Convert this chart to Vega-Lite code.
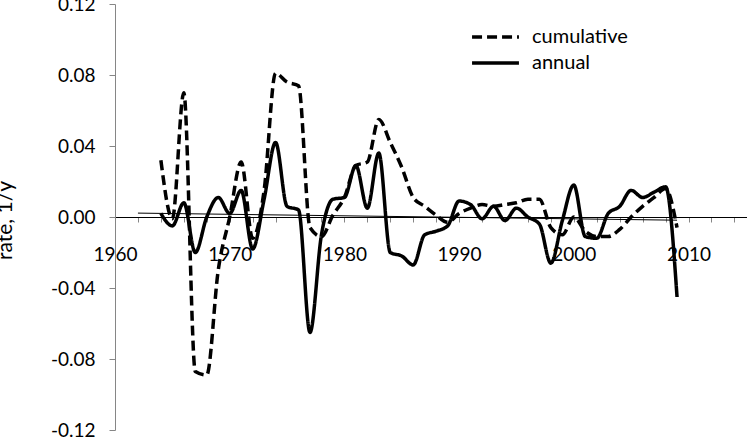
{
  "$schema": "https://vega.github.io/schema/vega-lite/v6.json",
  "width": 632,
  "height": 426,
  "autosize": {"type": "none"},
  "padding": {"left": 115, "top": 4, "right": 0, "bottom": 8},
  "background": "white",
  "config": {"view": {"stroke": null}, "font": "Lato"},
  "datasets": {
    "trend": [
      {"year": 1962, "value": 0.0022},
      {"year": 2009, "value": -0.0018}
    ],
    "rates": [
      {"year": 1964, "series": "cumulative", "value": 0.032},
      {"year": 1965, "series": "cumulative", "value": -0.001},
      {"year": 1966, "series": "cumulative", "value": 0.070},
      {"year": 1967, "series": "cumulative", "value": -0.087},
      {"year": 1968, "series": "cumulative", "value": -0.089},
      {"year": 1969, "series": "cumulative", "value": -0.030},
      {"year": 1970, "series": "cumulative", "value": 0.000},
      {"year": 1971, "series": "cumulative", "value": 0.031},
      {"year": 1972, "series": "cumulative", "value": -0.012},
      {"year": 1973, "series": "cumulative", "value": 0.015},
      {"year": 1974, "series": "cumulative", "value": 0.081},
      {"year": 1975, "series": "cumulative", "value": 0.076},
      {"year": 1976, "series": "cumulative", "value": 0.074},
      {"year": 1977, "series": "cumulative", "value": -0.006},
      {"year": 1978, "series": "cumulative", "value": -0.011},
      {"year": 1979, "series": "cumulative", "value": 0.001},
      {"year": 1980, "series": "cumulative", "value": 0.011},
      {"year": 1981, "series": "cumulative", "value": 0.029},
      {"year": 1982, "series": "cumulative", "value": 0.031},
      {"year": 1983, "series": "cumulative", "value": 0.055},
      {"year": 1984, "series": "cumulative", "value": 0.042},
      {"year": 1985, "series": "cumulative", "value": 0.028},
      {"year": 1986, "series": "cumulative", "value": 0.011},
      {"year": 1987, "series": "cumulative", "value": 0.006},
      {"year": 1988, "series": "cumulative", "value": 0.001},
      {"year": 1989, "series": "cumulative", "value": -0.003},
      {"year": 1990, "series": "cumulative", "value": 0.002},
      {"year": 1991, "series": "cumulative", "value": 0.005},
      {"year": 1992, "series": "cumulative", "value": 0.007},
      {"year": 1993, "series": "cumulative", "value": 0.006},
      {"year": 1994, "series": "cumulative", "value": 0.007},
      {"year": 1995, "series": "cumulative", "value": 0.008},
      {"year": 1996, "series": "cumulative", "value": 0.010},
      {"year": 1997, "series": "cumulative", "value": 0.010},
      {"year": 1998, "series": "cumulative", "value": -0.006},
      {"year": 1999, "series": "cumulative", "value": -0.010},
      {"year": 2000, "series": "cumulative", "value": 0.000},
      {"year": 2001, "series": "cumulative", "value": -0.008},
      {"year": 2002, "series": "cumulative", "value": -0.011},
      {"year": 2003, "series": "cumulative", "value": -0.011},
      {"year": 2004, "series": "cumulative", "value": -0.007},
      {"year": 2005, "series": "cumulative", "value": 0.000},
      {"year": 2006, "series": "cumulative", "value": 0.006},
      {"year": 2007, "series": "cumulative", "value": 0.011},
      {"year": 2008, "series": "cumulative", "value": 0.016},
      {"year": 2009, "series": "cumulative", "value": -0.006},
      {"year": 1964, "series": "annual", "value": 0.002},
      {"year": 1965, "series": "annual", "value": -0.005},
      {"year": 1966, "series": "annual", "value": 0.008},
      {"year": 1967, "series": "annual", "value": -0.020},
      {"year": 1968, "series": "annual", "value": 0.000},
      {"year": 1969, "series": "annual", "value": 0.011},
      {"year": 1970, "series": "annual", "value": 0.002},
      {"year": 1971, "series": "annual", "value": 0.015},
      {"year": 1972, "series": "annual", "value": -0.018},
      {"year": 1973, "series": "annual", "value": 0.010},
      {"year": 1974, "series": "annual", "value": 0.042},
      {"year": 1975, "series": "annual", "value": 0.006},
      {"year": 1976, "series": "annual", "value": 0.004},
      {"year": 1977, "series": "annual", "value": -0.065},
      {"year": 1978, "series": "annual", "value": -0.010},
      {"year": 1979, "series": "annual", "value": 0.010},
      {"year": 1980, "series": "annual", "value": 0.011},
      {"year": 1981, "series": "annual", "value": 0.029},
      {"year": 1982, "series": "annual", "value": 0.005},
      {"year": 1983, "series": "annual", "value": 0.036},
      {"year": 1984, "series": "annual", "value": -0.020},
      {"year": 1985, "series": "annual", "value": -0.022},
      {"year": 1986, "series": "annual", "value": -0.027},
      {"year": 1987, "series": "annual", "value": -0.010},
      {"year": 1988, "series": "annual", "value": -0.008},
      {"year": 1989, "series": "annual", "value": -0.005},
      {"year": 1990, "series": "annual", "value": 0.009},
      {"year": 1991, "series": "annual", "value": 0.007},
      {"year": 1992, "series": "annual", "value": -0.001},
      {"year": 1993, "series": "annual", "value": 0.006},
      {"year": 1994, "series": "annual", "value": -0.002},
      {"year": 1995, "series": "annual", "value": 0.005},
      {"year": 1996, "series": "annual", "value": 0.000},
      {"year": 1997, "series": "annual", "value": -0.004},
      {"year": 1998, "series": "annual", "value": -0.026},
      {"year": 1999, "series": "annual", "value": -0.002},
      {"year": 2000, "series": "annual", "value": 0.018},
      {"year": 2001, "series": "annual", "value": -0.011},
      {"year": 2002, "series": "annual", "value": -0.012},
      {"year": 2003, "series": "annual", "value": 0.002},
      {"year": 2004, "series": "annual", "value": 0.006},
      {"year": 2005, "series": "annual", "value": 0.015},
      {"year": 2006, "series": "annual", "value": 0.011},
      {"year": 2007, "series": "annual", "value": 0.014},
      {"year": 2008, "series": "annual", "value": 0.017},
      {"year": 2009, "series": "annual", "value": -0.045}
    ]
  },
  "encoding": {
    "x": {
      "field": "year",
      "type": "quantitative",
      "scale": {"domain": [1960, 2015.1], "nice": false, "zero": false},
      "axis": {
        "orient": "bottom",
        "offset": -213,
        "values": [1960, 1962, 1964, 1966, 1968, 1970, 1972, 1974, 1976, 1978, 1980, 1982, 1984, 1986, 1988, 1990, 1992, 1994, 1996, 1998, 2000, 2002, 2004, 2006, 2008, 2010, 2012, 2014],
        "labelExpr": "datum.value % 10 === 0 ? format(datum.value, 'd') : ''",
        "title": null,
        "grid": false,
        "domainColor": "black",
        "domainWidth": 1,
        "tickColor": "#868686",
        "tickSize": 5,
        "labelFont": "Lato",
        "labelFontSize": 19,
        "labelColor": "black",
        "labelBaseline": "alphabetic",
        "labelPadding": 38,
        "labelOverlap": false,
        "labelFlush": false,
        "zindex": 0
      }
    },
    "y": {
      "field": "value",
      "type": "quantitative",
      "scale": {"domain": [-0.12, 0.12], "nice": false, "zero": false},
      "axis": {
        "values": [-0.12, -0.08, -0.04, 0, 0.04, 0.08, 0.12],
        "labelExpr": "replace(format(datum.value, '.2f'), '\u2212', '-')",
        "grid": false,
        "domainColor": "#868686",
        "tickColor": "#868686",
        "tickSize": 6,
        "labelFont": "Lato",
        "labelFontSize": 19,
        "labelColor": "black",
        "labelPadding": 14,
        "labelFlush": false,
        "title": "rate, 1/y",
        "titleFont": "Lato",
        "titleFontSize": 21,
        "titleFontWeight": "normal",
        "titleColor": "black",
        "titleX": -104,
        "titleY": 216,
        "titleAngle": 270,
        "titleAlign": "center",
        "titleBaseline": "alphabetic",
        "zindex": 0
      }
    }
  },
  "layer": [
    {
      "data": {"name": "trend"},
      "mark": {"type": "line", "color": "black", "strokeWidth": 1}
    },
    {
      "data": {"name": "rates"},
      "mark": {"type": "line", "color": "black", "strokeWidth": 3.5, "interpolate": "monotone"},
      "encoding": {
        "strokeDash": {
          "field": "series",
          "type": "nominal",
          "scale": {"domain": ["cumulative", "annual"], "range": [[10, 5], [1, 0]]},
          "legend": {
            "orient": "none",
            "legendX": 355,
            "legendY": 22,
            "title": null,
            "padding": 0,
            "symbolType": "stroke",
            "symbolSize": 2200,
            "symbolStrokeWidth": 3.5,
            "symbolStrokeColor": "black",
            "labelFont": "Lato",
            "labelFontSize": 20,
            "labelColor": "black",
            "labelOffset": 11,
            "clipHeight": 22,
            "rowPadding": 4
          }
        }
      }
    }
  ]
}
